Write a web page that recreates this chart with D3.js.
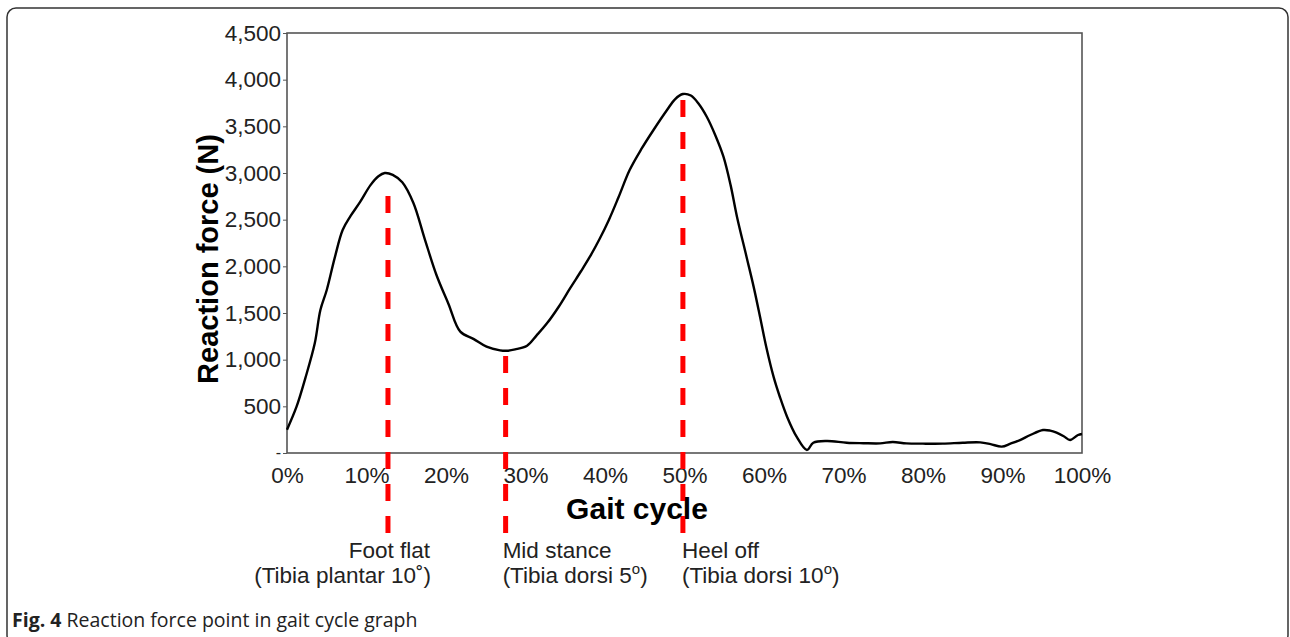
<!DOCTYPE html>
<html>
<head>
<meta charset="utf-8">
<script src="https://cdn.jsdelivr.net/npm/d3@7"></script>
<style>
  body { margin: 0; background: #fff; }
  svg { display: block; }
</style>
</head>
<body>
<div id="chart"></div>
<script>
// gait cycle (%) and reaction force (N)
var gaitPct = [0, 1.2, 2.3, 3.5, 4.2, 5, 6, 7, 8, 9.2, 10.5, 11.5, 12.3, 13.3, 14.5, 15.9, 17.3, 18.8, 20.3, 21.8, 23.5, 25.1, 26.8, 27.6, 28.7, 30.2, 31.4, 32.7, 34.2, 35.6, 37, 38.1, 39.3, 40.5, 41.7, 43.1, 44.6, 46.1, 47.8, 48.8, 49.8, 50.8, 51.8, 52.8, 53.9, 54.9, 55.8, 56.6, 57.8, 58.7, 59.5, 60.3, 61.2, 62, 62.9, 64.1, 65.4, 66.2, 67.9, 70.4, 72.5, 74.6, 76.2, 77.9, 80, 82.5, 85, 87.2, 88.5, 89.9, 91, 92.2, 93.5, 95.1, 96, 96.8, 97.7, 98.5, 99.5, 100];
var force = [250, 496, 800, 1178, 1532, 1746, 2090, 2390, 2540, 2690, 2870, 2965, 3000, 2980, 2900, 2678, 2300, 1907, 1600, 1300, 1220, 1139, 1100, 1095, 1110, 1150, 1260, 1389, 1570, 1764, 1950, 2103, 2290, 2500, 2740, 3032, 3260, 3461, 3675, 3790, 3846, 3830, 3740, 3603, 3400, 3175, 2870, 2532, 2103, 1780, 1460, 1130, 818, 600, 389, 175, 32, 110, 129, 110, 105, 103, 118, 103, 100, 100, 110, 114, 95, 68, 100, 139, 193, 246, 240, 218, 180, 139, 193, 204];

var yTicks = [0, 500, 1000, 1500, 2000, 2500, 3000, 3500, 4000, 4500];
var xTicks = [0, 10, 20, 30, 40, 50, 60, 70, 80, 90, 100];

var events = [
  { pct: 12.7, force: 2960, line1: "Foot flat", line2: "(Tibia plantar 10˚)", sup: "", anchor: "end", dx: 42, dx2: 43 },
  { pct: 27.5, force: 1095, line1: "Mid stance", line2: "(Tibia dorsi 5", sup: "o", after: ")", anchor: "start", dx: -3, dx2: -3 },
  { pct: 49.8, force: 3846, line1: "Heel off", line2: "(Tibia dorsi 10", sup: "o", after: ")", anchor: "start", dx: -1, dx2: -1 }
];

var W = 1290, H = 637;
var margin = { top: 33, left: 287, right: 208, bottom: 184 };

var svg = d3.select("#chart").append("svg").attr("width", W).attr("height", H);

// outer frame
svg.append("rect")
  .attr("x", 7).attr("y", 8).attr("width", 1281).attr("height", 636)
  .attr("rx", 9)
  .attr("fill", "none").attr("stroke", "#333").attr("stroke-width", 1.5);

var x = d3.scaleLinear().domain([0, 100]).range([margin.left, W - margin.right]);
var y = d3.scaleLinear().domain([0, 4500]).range([H - margin.bottom, margin.top]);

var font = "Arial, 'Liberation Sans', sans-serif";

// axes
var yAxis = svg.append("g")
  .attr("transform", `translate(${margin.left},0)`)
  .call(d3.axisLeft(y).tickValues(yTicks).tickSize(4).tickPadding(2)
    .tickFormat(d => d === 0 ? "-" : d3.format(",")(d)));
var xAxis = svg.append("g")
  .attr("transform", `translate(0,${H - margin.bottom})`)
  .call(d3.axisBottom(x).tickValues(xTicks).tickSize(0).tickPadding(14)
    .tickFormat(d => d + "%"));

[yAxis, xAxis].forEach(g => {
  g.selectAll("text").attr("font-family", font).attr("font-size", 22.5).attr("fill", "#222");
  g.select(".domain").remove();
  g.selectAll("line").attr("stroke", "#555");
});
// the zero label is only a small dash
yAxis.selectAll(".tick text").filter(d => d === 0).attr("font-size", 16).attr("dy", "0.25em");

// plot box
svg.append("rect")
  .attr("x", x(0)).attr("y", y(4500))
  .attr("width", x(100) - x(0)).attr("height", y(0) - y(4500))
  .attr("fill", "none").attr("stroke", "#555").attr("stroke-width", 1.6);

// event lines (drawn upward so the last dash ends cleanly at the bottom)
svg.selectAll(".event-line")
  .data(events)
  .join("line")
  .attr("class", "event-line")
  .attr("x1", d => x(d.pct)).attr("x2", d => x(d.pct))
  .attr("y1", 533).attr("y2", d => y(d.force) + 5)
  .attr("stroke", "#ff0000").attr("stroke-width", 5)
  .attr("stroke-dasharray", "17,15");

// curve
var line = d3.line()
  .x((d, i) => x(gaitPct[i]))
  .y(d => y(d))
  .curve(d3.curveCatmullRom.alpha(0.5));

svg.append("path")
  .datum(force)
  .attr("d", line)
  .attr("fill", "none")
  .attr("stroke", "#000")
  .attr("stroke-width", 2.4)
  .attr("stroke-linejoin", "round");

// axis titles
svg.append("text")
  .attr("x", 637).attr("y", 519)
  .attr("text-anchor", "middle")
  .attr("font-family", font).attr("font-weight", "bold").attr("font-size", 30)
  .text("Gait cycle");

svg.append("text")
  .attr("transform", "translate(218,259) rotate(-90)")
  .attr("text-anchor", "middle")
  .attr("font-family", font).attr("font-weight", "bold").attr("font-size", 29)
  .text("Reaction force (N)");

// event labels
events.forEach(e => {
  var g = svg.append("g")
    .attr("font-family", font).attr("font-size", 22.5).attr("fill", "#222")
    .attr("text-anchor", e.anchor);
  g.append("text").attr("x", x(e.pct) + e.dx).attr("y", 558).text(e.line1);
  var t = g.append("text").attr("x", x(e.pct) + e.dx2).attr("y", 583);
  t.append("tspan").text(e.line2);
  if (e.sup) {
    t.append("tspan").attr("font-size", 15).attr("dy", -9).text(e.sup);
    t.append("tspan").attr("dy", 9).text(e.after);
  }
});

// caption
var cap = svg.append("text")
  .attr("x", 12).attr("y", 627)
  .attr("font-family", "'Open Sans', sans-serif").attr("font-size", 19.5).attr("fill", "#222");
cap.append("tspan").attr("font-weight", "bold").text("Fig. 4");
cap.append("tspan").text(" Reaction force point in gait cycle graph");
</script>
</body>
</html>
